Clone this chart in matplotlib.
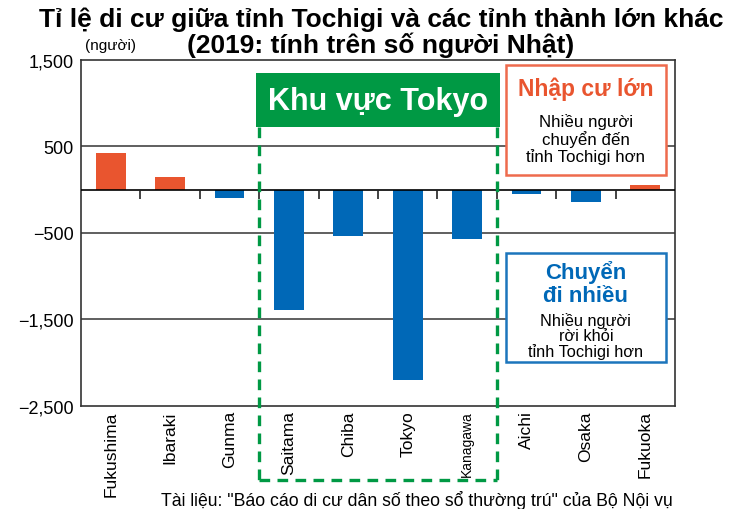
import matplotlib
matplotlib.use("Agg")
import matplotlib.pyplot as plt
import matplotlib.transforms as mtransforms
from matplotlib.patches import Rectangle
import numpy as np

plt.rcParams['font.family'] = ['Liberation Sans', 'DejaVu Sans']

# du lieu
prefectures = ["Fukushima", "Ibaraki", "Gunma", "Saitama", "Chiba",
               "Tokyo", "Kanagawa", "Aichi", "Osaka", "Fukuoka"]
net_moves = [420, 150, -100, -1390, -530, -2200, -565, -55, -145, 50]
yticks = [1500, 500, -500, -1500, -2500]

orange = "#E9552F"
blue = "#0068B7"
green = "#009944"

fig = plt.figure(figsize=(7.37, 5.10), dpi=100)
ax = fig.add_axes([0.1099, 0.2020, 0.8060, 0.6784])

x = np.arange(len(prefectures))
cols = [orange if v > 0 else blue for v in net_moves]
ax.bar(x, net_moves, width=0.5, color=cols, zorder=3)

ax.set_xlim(-0.5, len(prefectures) - 0.5)
ax.set_ylim(-2500, 1500)

# luoi ngang
for yv in [500, -500, -1500]:
    ax.axhline(yv, color="#444444", lw=1.2, zorder=1)
ax.axhline(0, color="black", lw=1.2, zorder=4)
# vach chia giua cac tinh
ax.vlines(x[:-1] + 0.5, -105, 0, color="#222222", lw=1.2, zorder=4)

ax.set_yticks(yticks)
ax.set_yticklabels(["1,500", "500", "\u2212500", "\u22121,500", "\u22122,500"], fontsize=13)
ax.set_xticks(x)
ax.set_xticklabels(prefectures, rotation=90, fontsize=12.5)
# Kanagawa bi nen lai cho vua khung
ax.get_xticklabels()[6].set_fontsize(10)
ax.tick_params(length=0, pad=5)
ax.tick_params(axis='x', pad=3)
for s in ax.spines.values():
    s.set_color("#333333")
    s.set_linewidth(1.2)

# khung Khu vuc Tokyo
trans = mtransforms.blended_transform_factory(ax.transData, ax.transAxes)
ax.add_patch(Rectangle((2.45, 0.806), 4.1, 0.156, transform=trans,
                       facecolor=green, edgecolor="none", zorder=5, clip_on=False))
ax.text(4.5, 0.882, "Khu vực Tokyo", transform=trans, color="white",
        fontsize=22, fontweight="bold", ha="center", va="center", zorder=6)
dash = dict(color=green, lw=2.4, ls=(0, (3.2, 2.2)), transform=trans,
            clip_on=False, zorder=5)
ax.plot([2.5, 2.5], [0.806, -0.214], **dash)
ax.plot([6.5, 6.5], [0.806, -0.214], **dash)
ax.plot([2.5, 6.5], [-0.214, -0.214], **dash)

# hop chu thich cam
ax.add_patch(Rectangle((0.7155, 0.6676), 0.2695, 0.318, transform=ax.transAxes,
                       facecolor="white", edgecolor="#EE6B4D", lw=1.8, zorder=5))
ax.text(0.850, 0.918, "Nhập cư lớn", transform=ax.transAxes, color=orange,
        fontsize=16.5, fontweight="bold", ha="center", va="center", zorder=6)
ax.text(0.850, 0.773, "Nhiều người\nchuyển đến\ntỉnh Tochigi hơn", transform=ax.transAxes,
        fontsize=12.2, ha="center", va="center", linespacing=1.05, zorder=6)

# hop chu thich xanh
ax.add_patch(Rectangle((0.7155, 0.127), 0.2695, 0.315, transform=ax.transAxes,
                       facecolor="white", edgecolor="#1C75BC", lw=1.8, zorder=5))
ax.text(0.850, 0.356, "Chuyển\nđi nhiều", transform=ax.transAxes, color=blue,
        fontsize=16, fontweight="bold", ha="center", va="center", linespacing=1.12, zorder=6)
ax.text(0.850, 0.203, "Nhiều người\nrời khỏi\ntỉnh Tochigi hơn", transform=ax.transAxes,
        fontsize=11.8, ha="center", va="center", linespacing=1.0, zorder=6)

fig.text(0.517, 0.961, "Tỉ lệ di cư giữa tỉnh Tochigi và các tỉnh thành lớn khác",
         fontsize=19, fontweight="bold", ha="center", va="center")
fig.text(0.517, 0.911, "(2019: tính trên số người Nhật)",
         fontsize=19, fontweight="bold", ha="center", va="center")
fig.text(0.115, 0.910, "(người)", fontsize=11, ha="left", va="center")
fig.text(0.913, 0.018, "Tài liệu: \"Báo cáo di cư dân số theo sổ thường trú\" của Bộ Nội vụ",
         fontsize=12.7, ha="right", va="center")

fig.savefig("out.png", dpi=100)
